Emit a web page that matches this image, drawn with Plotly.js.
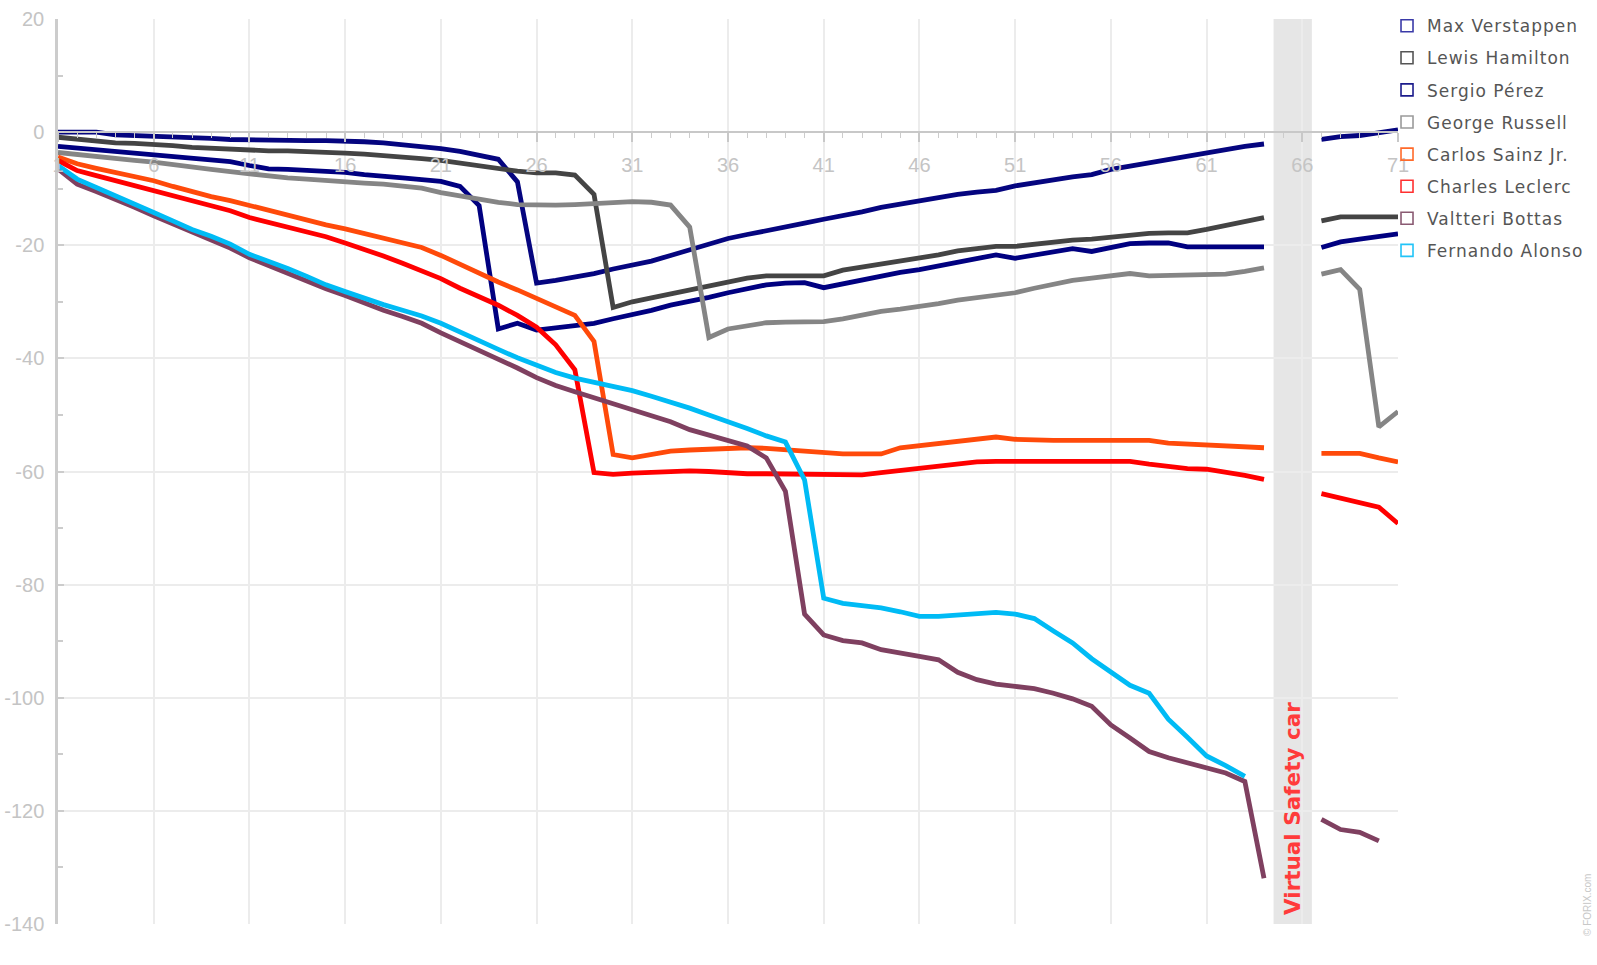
<!DOCTYPE html>
<html>
<head>
<meta charset="utf-8">
<script src="https://cdn.plot.ly/plotly-3.0.1.min.js"></script>
<style>
  html, body { margin: 0; padding: 0; background: #ffffff; }
  #chart { width: 1597px; height: 965px; }
  .legendtext { letter-spacing: 1px; }
</style>
</head>
<body>
<div id="chart"></div>
<script>
// ---- Data (gap in seconds per lap) ----
const laps = [1,2,3,4,5,6,7,8,9,10,11,12,13,14,15,16,17,18,19,20,21,22,23,24,25,26,27,28,29,30,31,32,33,34,35,36,37,38,39,40,41,42,43,44,45,46,47,48,49,50,51,52,53,54,55,56,57,58,59,60,61,62,63,64,65,66,67,68,69,70,71];

const drivers = ["Max Verstappen","Lewis Hamilton","Sergio Pérez","George Russell","Carlos Sainz Jr.","Charles Leclerc","Valtteri Bottas","Fernando Alonso"];
const colors  = ["#05057f","#444444","#000080","#858585","#ff4a0a","#ff0000","#7f4060","#00bbf5"];
const legendColors = ["#3a3aa8","#555555","#1c1c8c","#9a9a9a","#ff6a2a","#ff3030","#8a5a72","#22c4f8"];

const yTickVals = [-140,-120,-100,-80,-60,-40,-20,0,20];
const yTickText = ["-140","-120","-100","-80","-60","-40","-20","0","20"];

const verstappen = [0.0,0.0,0.0,-0.5,-0.6,-0.6,-0.7,-1.0,-1.1,-1.3,-1.4,-1.5,-1.5,-1.5,-1.5,-1.5,-1.7,-1.9,-2.2,-2.6,-2.9,-3.4,-4.0,-4.8,-8.8,-26.7,-26.2,-25.7,-25.0,-24.2,-23.6,-22.8,-21.8,-20.8,-19.7,-18.8,-18.1,-17.5,-16.8,-16.1,-15.4,-14.8,-14.1,-13.3,-12.7,-12.2,-11.6,-11.0,-10.6,-10.3,-9.5,-8.9,-8.3,-7.9,-7.5,-6.6,-6.0,-5.4,-4.8,-4.3,-3.6,-3.0,-2.5,-2.1,null,null,-1.3,-0.8,-0.6,-0.2,0.4];

const hamilton = [-0.9,-1.3,-1.6,-1.9,-2.0,-2.1,-2.4,-2.7,-2.9,-3.1,-3.3,-3.3,-3.3,-3.4,-3.4,-3.7,-3.9,-4.1,-4.4,-4.7,-5.0,-5.5,-6.1,-6.6,-6.9,-7.2,-7.2,-7.6,-11.0,-31.0,-30.0,-29.3,-28.6,-27.9,-27.2,-26.6,-25.8,-25.4,-25.4,-25.4,-25.4,-24.4,-23.9,-23.3,-22.9,-22.4,-21.7,-21.0,-20.5,-20.2,-20.2,-19.8,-19.3,-19.1,-18.9,-18.6,-18.1,-17.9,-17.8,-17.8,-17.2,-16.5,-15.8,-15.1,null,null,-15.7,-15.0,-15.0,-15.0,-15.0];

const perez = [-2.5,-2.8,-3.1,-3.4,-3.6,-3.8,-4.1,-4.5,-4.8,-5.2,-5.9,-6.5,-6.6,-6.7,-6.8,-7.1,-7.5,-7.9,-8.1,-8.4,-8.7,-9.6,-13.0,-34.8,-33.8,-35.0,-34.6,-34.3,-33.8,-33.0,-32.3,-31.5,-30.6,-30.0,-29.2,-28.4,-27.6,-27.0,-26.7,-26.6,-27.5,-26.8,-26.1,-25.4,-24.8,-24.3,-23.6,-23.0,-22.2,-21.7,-22.3,-21.7,-21.1,-20.6,-21.1,-20.3,-19.7,-19.6,-19.6,-20.3,-20.3,-20.3,-20.3,-20.3,null,null,-20.4,-19.4,-18.9,-18.5,-18.0];

const russell = [-3.6,-4.0,-4.4,-4.7,-5.0,-5.3,-5.8,-6.3,-6.6,-7.0,-7.4,-7.7,-8.1,-8.3,-8.6,-8.8,-9.0,-9.2,-9.5,-9.9,-10.7,-11.3,-11.9,-12.4,-12.8,-12.9,-12.9,-12.8,-12.6,-12.4,-12.3,-12.4,-12.9,-16.8,-36.3,-34.8,-34.2,-33.7,-33.6,-33.6,-33.5,-33.0,-32.3,-31.7,-31.3,-30.9,-30.3,-29.7,-29.3,-28.8,-28.4,-27.6,-26.9,-26.2,-25.8,-25.4,-25.0,-25.4,-25.3,-25.2,-25.2,-25.1,-24.6,-24.0,null,null,-25.1,-24.3,-27.8,-52.1,-49.4];

const sainz = [-4.4,-5.6,-6.4,-7.1,-7.9,-8.6,-9.6,-10.6,-11.4,-12.1,-13.0,-13.9,-14.8,-15.6,-16.4,-17.1,-17.9,-18.6,-19.5,-20.4,-21.8,-23.4,-24.9,-26.5,-27.9,-29.4,-30.9,-32.4,-37.0,-57.0,-57.6,-57.0,-56.4,-56.2,-56.0,-55.9,-55.8,-55.9,-56.2,-56.5,-56.8,-56.9,-56.9,-56.9,-55.8,-55.4,-55.0,-54.6,-54.1,-53.9,-54.3,-54.5,-54.5,-54.5,-54.5,-54.5,-54.5,-54.5,-55.0,-55.2,-55.3,-55.6,-55.8,-55.8,null,null,-56.8,-56.8,-56.8,-57.6,-58.3];

const leclerc = [-5.0,-6.8,-7.7,-8.6,-9.5,-10.4,-11.3,-12.3,-13.1,-13.9,-15.1,-15.9,-16.8,-17.5,-18.5,-19.6,-20.7,-21.9,-23.2,-24.5,-25.9,-27.6,-29.0,-30.6,-32.4,-34.5,-37.6,-42.0,-60.2,-60.5,-60.3,-60.1,-59.9,-59.9,-60.0,-60.3,-60.4,-60.4,-60.4,-60.4,-60.5,-60.5,-60.6,-60.2,-59.8,-59.5,-59.1,-58.7,-58.3,-58.2,-58.2,-58.2,-58.2,-58.2,-58.2,-58.2,-58.2,-58.7,-59.2,-59.5,-59.6,-60.1,-60.7,-61.4,null,null,-63.9,-64.7,-65.4,-66.3,-69.2];

const bottas = [-6.5,-9.2,-10.5,-11.8,-13.3,-14.8,-16.2,-17.7,-19.0,-20.5,-22.2,-23.6,-25.0,-26.3,-27.7,-28.9,-30.3,-31.5,-32.6,-33.8,-35.5,-37.0,-38.6,-40.0,-41.7,-43.4,-44.8,-45.9,-47.0,-48.0,-49.0,-50.1,-51.2,-52.6,-53.5,-54.4,-55.5,-57.6,-63.5,-85.2,-88.9,-89.9,-90.3,-91.5,-92.2,-92.7,-93.3,-95.5,-96.8,-97.6,-98.0,-98.4,-99.2,-100.2,-101.5,-104.8,-107.1,-109.5,-110.6,-111.5,-112.4,-113.3,-114.8,-131.9,null,null,-121.5,-123.3,-123.8,-125.3,null];

const alonso = [-5.9,-8.3,-9.8,-11.2,-12.7,-14.2,-15.7,-17.2,-18.4,-19.8,-21.6,-22.8,-24.1,-25.5,-27.0,-28.2,-29.4,-30.5,-31.5,-32.5,-33.8,-35.4,-37.0,-38.4,-39.9,-41.3,-42.5,-43.5,-44.2,-45.0,-45.7,-46.7,-47.7,-48.8,-50.0,-51.1,-52.4,-53.7,-54.8,-61.5,-82.4,-83.3,-83.6,-84.1,-84.8,-85.6,-85.6,-85.4,-85.2,-84.9,-85.2,-86.0,-88.2,-90.3,-93.1,-95.5,-97.8,-99.2,-103.8,-107.0,-110.3,-112.0,-113.9,null,null,null,null,null,null,null,null];

const series = [verstappen, hamilton, perez, russell, sainz, leclerc, bottas, alonso];

const vscStart = 64.5, vscEnd = 66.5;
const vscLabel = "Virtual Safety car";
const credit = "© FORIX.com";

// ---- Traces ----
const traces = [];
series.forEach((vals, i) => {
  traces.push({
    type: "scatter", mode: "lines", x: laps, y: vals,
    name: drivers[i], showlegend: false, legendgroup: "g" + i,
    connectgaps: false,
    line: { color: colors[i], width: 4.8, shape: "linear" },
    hoverinfo: "x+y+name"
  });
});
// legend entries (hollow squares)
drivers.forEach((d, i) => {
  traces.push({
    type: "scatter", mode: "markers", x: [null], y: [null],
    name: d, legendgroup: "g" + i, showlegend: true,
    marker: { symbol: "square-open", size: 12, color: legendColors[i], line: { width: 1.6, color: legendColors[i] } },
    hoverinfo: "skip"
  });
});

const tickFont = { family: "Liberation Sans, Arial, sans-serif", size: 20, color: "#c4c4c4" };

const layout = {
  width: 1597, height: 965,
  margin: { l: 58, r: 199, t: 19, b: 41, pad: 0, autoexpand: false },
  paper_bgcolor: "#ffffff", plot_bgcolor: "#ffffff",
  showlegend: true,
  legend: {
    x: 0.9918, xanchor: "left", y: 1.012, yanchor: "top",
    traceorder: "grouped", tracegroupgap: 7,
    font: { family: "DejaVu Sans, Verdana, sans-serif", size: 17, color: "#555555" },
    bgcolor: "rgba(0,0,0,0)", borderwidth: 0, itemclick: false
  },
  xaxis: {
    range: [1, 71], tickmode: "linear", tick0: 1, dtick: 5,
    anchor: "free", position: 0.875, side: "bottom",
    showline: true, linecolor: "#c8c8c8", linewidth: 2,
    ticks: "outside", ticklen: 9, tickwidth: 1.5, tickcolor: "#c8c8c8",
    ticklabelstandoff: 6,
    minor: { tickmode: "linear", tick0: 1, dtick: 1, ticks: "outside", ticklen: 5, tickwidth: 1, tickcolor: "#cccccc", showgrid: false },
    showgrid: true, gridcolor: "#ececec", gridwidth: 1.5,
    zeroline: false, tickfont: tickFont, fixedrange: true
  },
  yaxis: {
    range: [-140, 20], tickmode: "array", tickvals: yTickVals, ticktext: yTickText,
    showline: true, linecolor: "#cccccc", linewidth: 2.5,
    ticks: "inside", ticklen: 6, tickwidth: 1.5, tickcolor: "#cccccc",
    minor: { tickmode: "linear", tick0: 0, dtick: 10, ticks: "inside", ticklen: 5, tickwidth: 1.5, tickcolor: "#cccccc", showgrid: false },
    showgrid: true, gridcolor: "#ececec", gridwidth: 1.5,
    zeroline: false, tickfont: tickFont, ticklabelstandoff: 7, fixedrange: true
  },
  shapes: [{
    type: "rect", xref: "x", yref: "paper", x0: vscStart, x1: vscEnd, y0: 0, y1: 1,
    fillcolor: "#e6e6e6", line: { width: 0 }, layer: "below"
  }],
  annotations: [
    {
      xref: "x", yref: "paper", x: (vscStart + vscEnd) / 2, y: 0.008,
      xanchor: "center", yanchor: "bottom", text: vscLabel, textangle: -90, showarrow: false,
      font: { family: "DejaVu Sans, Verdana, sans-serif", size: 21.5, color: "#ff3b3b", weight: "bold" }
    },
    {
      xref: "paper", yref: "paper", x: 1.1418, y: 0.021,
      xanchor: "center", yanchor: "middle", text: credit, textangle: -90, showarrow: false,
      font: { family: "Liberation Sans, Arial, sans-serif", size: 10, color: "#c8c8c8" }
    }
  ]
};

Plotly.newPlot("chart", traces, layout, { displayModeBar: false, staticPlot: false, responsive: false });
</script>
</body>
</html>
